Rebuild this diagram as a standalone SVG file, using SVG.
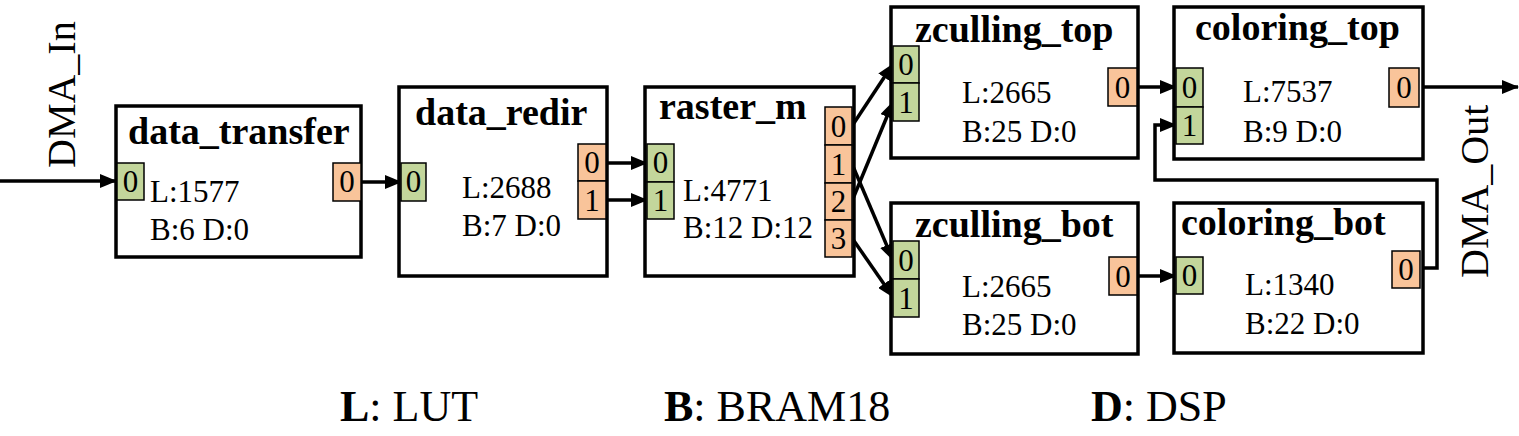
<svg xmlns="http://www.w3.org/2000/svg" width="1519" height="436" viewBox="0 0 1519 436">
<style>
.box{fill:#fff;stroke:#000;stroke-width:3.5}
.pin{fill:#C3D69B;stroke:#000;stroke-width:1.5}
.pout{fill:#F9C49A;stroke:#000;stroke-width:1.5}
.pt{font-family:"Liberation Serif","Times New Roman",serif;font-size:31px;fill:#000;text-anchor:middle}
.title{font-family:"Liberation Serif","Times New Roman",serif;font-size:38px;font-weight:bold;fill:#000}
.body{font-family:"Liberation Serif","Times New Roman",serif;font-size:31px;fill:#000}
.lbl{font-family:"Liberation Serif","Times New Roman",serif;font-size:40px;fill:#000}
.leg{font-family:"Liberation Serif","Times New Roman",serif;font-size:44px;fill:#000}
.conn{fill:none;stroke:#000;stroke-width:3.5}
</style>
<defs>
<marker id="arr" markerWidth="17" markerHeight="14" refX="16" refY="7" orient="auto" markerUnits="userSpaceOnUse">
<path d="M0,0 L17,7 L0,14 Z" fill="#000"/>
</marker>
</defs>

<g id="connectors">
<path class="conn" d="M0,181 L116,181" marker-end="url(#arr)"/>
<path class="conn" d="M361,182 L401,182" marker-end="url(#arr)"/>
<path class="conn" d="M606,163 L647,163" marker-end="url(#arr)"/>
<path class="conn" d="M606,200 L647,200" marker-end="url(#arr)"/>
<path class="conn" d="M852,126 L893,64" marker-end="url(#arr)"/>
<path class="conn" d="M852,201 L893,102" marker-end="url(#arr)"/>
<path class="conn" d="M852,164 L893,260" marker-end="url(#arr)"/>
<path class="conn" d="M852,238 L893,297" marker-end="url(#arr)"/>
<path class="conn" d="M1137,87 L1176,87" marker-end="url(#arr)"/>
<path class="conn" d="M1137,276 L1176,276" marker-end="url(#arr)"/>
<path class="conn" d="M1420,268 L1437,268 L1437,180 L1155,180 L1155,125 L1176,125" marker-end="url(#arr)"/>
<path class="conn" d="M1419,87 L1518,87" marker-end="url(#arr)"/>
</g>

<g id="dma_in">
<text class="lbl" transform="translate(75,168) rotate(-90)">DMA_In</text>
</g>
<g id="dma_out">
<text class="lbl" transform="translate(1488,278) rotate(-90)">DMA_Out</text>
</g>

<g id="data_transfer">
<rect class="box" x="116" y="106" width="245" height="151"/>
<text class="title" x="128" y="144">data_transfer</text>
<rect class="pin" x="117" y="163" width="27" height="37"/>
<text class="pt" x="130.5" y="192">0</text>
<rect class="pout" x="333" y="163" width="28" height="38"/>
<text class="pt" x="347" y="192">0</text>
<text class="body" x="150" y="202">L:1577</text>
<text class="body" x="150" y="240">B:6 D:0</text>
</g>

<g id="data_redir">
<rect class="box" x="399" y="87" width="208" height="189"/>
<text class="title" x="415" y="125">data_redir</text>
<rect class="pin" x="401" y="163" width="25" height="38"/>
<text class="pt" x="413.5" y="192">0</text>
<rect class="pout" x="578" y="144" width="28" height="37"/>
<text class="pt" x="592" y="173">0</text>
<rect class="pout" x="578" y="181" width="28" height="38"/>
<text class="pt" x="592" y="211">1</text>
<text class="body" x="462" y="198">L:2688</text>
<text class="body" x="462" y="236">B:7 D:0</text>
</g>

<g id="raster_m">
<rect class="box" x="645" y="87" width="209" height="189"/>
<text class="title" x="659" y="119">raster_m</text>
<rect class="pin" x="647" y="144" width="27" height="38"/>
<text class="pt" x="660.5" y="173">0</text>
<rect class="pin" x="647" y="182" width="27" height="37"/>
<text class="pt" x="660.5" y="211">1</text>
<rect class="pout" x="825" y="107" width="27" height="38"/>
<text class="pt" x="838.5" y="137">0</text>
<rect class="pout" x="825" y="145" width="27" height="38"/>
<text class="pt" x="838.5" y="175">1</text>
<rect class="pout" x="825" y="183" width="27" height="37"/>
<text class="pt" x="838.5" y="212">2</text>
<rect class="pout" x="825" y="220" width="27" height="37"/>
<text class="pt" x="838.5" y="249">3</text>
<text class="body" x="683" y="201">L:4771</text>
<text class="body" x="683" y="238">B:12 D:12</text>
</g>

<g id="zculling_top">
<rect class="box" x="891" y="7" width="247" height="151"/>
<text class="title" x="915" y="42">zculling_top</text>
<rect class="pin" x="893" y="46" width="26" height="37"/>
<text class="pt" x="906" y="75">0</text>
<rect class="pin" x="893" y="83" width="26" height="38"/>
<text class="pt" x="906" y="113">1</text>
<rect class="pout" x="1108" y="68" width="29" height="38"/>
<text class="pt" x="1122.5" y="98">0</text>
<text class="body" x="962" y="103">L:2665</text>
<text class="body" x="962" y="142">B:25 D:0</text>
</g>

<g id="zculling_bot">
<rect class="box" x="891" y="203" width="247" height="151"/>
<text class="title" x="915" y="237">zculling_bot</text>
<rect class="pin" x="893" y="241" width="26" height="38"/>
<text class="pt" x="906" y="271">0</text>
<rect class="pin" x="893" y="279" width="26" height="38"/>
<text class="pt" x="906" y="309">1</text>
<rect class="pout" x="1109" y="257" width="28" height="38"/>
<text class="pt" x="1123" y="287">0</text>
<text class="body" x="962" y="297">L:2665</text>
<text class="body" x="962" y="335">B:25 D:0</text>
</g>

<g id="coloring_top">
<rect class="box" x="1174" y="7" width="249" height="152"/>
<text class="title" x="1195" y="40">coloring_top</text>
<rect class="pin" x="1176" y="68" width="27" height="39"/>
<text class="pt" x="1189.5" y="98">0</text>
<rect class="pin" x="1176" y="107" width="27" height="37"/>
<text class="pt" x="1189.5" y="136">1</text>
<rect class="pout" x="1389" y="68" width="30" height="39"/>
<text class="pt" x="1404" y="98">0</text>
<text class="body" x="1243" y="102">L:7537</text>
<text class="body" x="1243" y="142">B:9 D:0</text>
</g>

<g id="coloring_bot">
<rect class="box" x="1174" y="203" width="249" height="150"/>
<text class="title" x="1181" y="235">coloring_bot</text>
<rect class="pin" x="1176" y="257" width="27" height="37"/>
<text class="pt" x="1189.5" y="286">0</text>
<rect class="pout" x="1392" y="251" width="28" height="37"/>
<text class="pt" x="1406" y="280">0</text>
<text class="body" x="1245" y="295">L:1340</text>
<text class="body" x="1245" y="334">B:22 D:0</text>
</g>

<g id="legend">
<text class="leg" x="340" y="421"><tspan font-weight="bold">L</tspan>: LUT</text>
<text class="leg" x="664" y="421"><tspan font-weight="bold">B</tspan>: BRAM18</text>
<text class="leg" x="1091" y="421"><tspan font-weight="bold">D</tspan>: DSP</text>
</g>
</svg>
